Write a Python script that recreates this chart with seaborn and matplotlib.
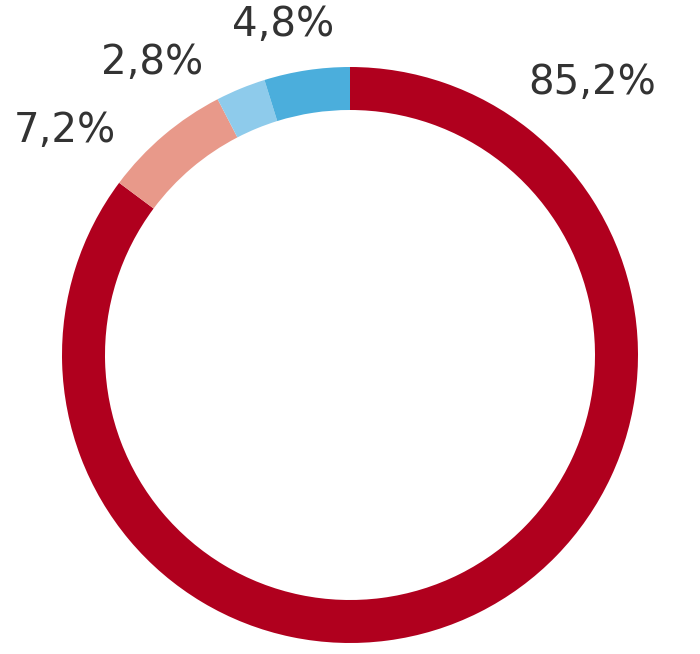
import matplotlib
matplotlib.use("Agg")
import matplotlib.pyplot as plt
import seaborn as sns

# ── data ──────────────────────────────────────────────────────────────────────
labels = ["85,2%", "7,2%", "2,8%", "4,8%"]
shares = [85.2, 7.2, 2.8, 4.8]
colors = ["#B0001E", "#E8998A", "#8ECBEB", "#4BAEDC"]

# label anchor positions in pixel space (x, y from top)
label_pos = [(592, 83), (65, 131), (152, 63), (283, 25)]

sns.set_theme(style="white")
plt.rcParams["font.family"] = ["DejaVu Sans"]

W, H = 700, 654
fig = plt.figure(figsize=(W / 100, H / 100), dpi=100)
ax = fig.add_axes([0, 0, 1, 1])
ax.set_xlim(0, W)
ax.set_ylim(0, H)
ax.set_aspect("equal")
ax.axis("off")

cx, cy, r = 350, H - 355, 288
ax.pie(shares, colors=sns.color_palette(colors), startangle=90,
       counterclock=False, radius=r, center=(cx, cy), frame=True,
       wedgeprops=dict(width=43, linewidth=0))
ax.set_xlim(0, W)
ax.set_ylim(0, H)
ax.axis("off")

for lab, (px, py) in zip(labels, label_pos):
    ax.text(px, H - py, lab, ha="center", va="center",
            fontsize=29, color="#333333")

plt.savefig("out.png", dpi=100)
